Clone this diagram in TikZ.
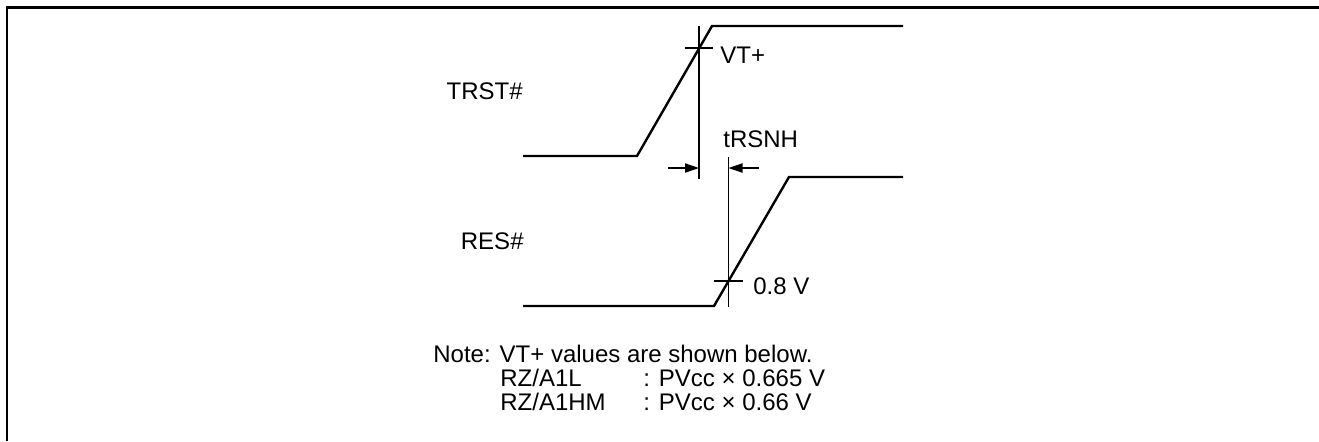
\documentclass[tikz,border=0pt]{standalone}
\usepackage{fontspec}
\setmainfont{Liberation Sans}
\usetikzlibrary{arrows.meta}

\begin{document}
\begin{tikzpicture}[x=0.5pt,y=-0.5pt,
    wave/.style={line width=1.2pt},
    marker/.style={line width=0.65pt},
    dimarrow/.style={line width=0.65pt,-{Triangle[length=7pt,width=4.6pt]}},
    lbl/.style={inner sep=0pt,font=\fontsize{12pt}{11pt}\selectfont}]
            \useasboundingbox (0,0) rectangle (1319,441);
            \draw[line width=1.2pt] (7,441)--(7,7.5)--(1319,7.5);

            \coordinate (T0) at (523,156);
            \coordinate (T1) at (637,156);
            \coordinate (T2) at (712,26);
            \coordinate (T3) at (903,26);
            \coordinate (VT) at (699,48);

            \coordinate (R0) at (523,306);
            \coordinate (R1) at (714,306);
            \coordinate (R2) at (789,177);
            \coordinate (R3) at (903,177);
            \coordinate (RV) at (728.5,281);

            \draw[wave] (T0)--(T1)--(T2)--(T3);
            \draw[wave] (R0)--(R1)--(R2)--(R3);

            % threshold marks
            \coordinate (VTtop) at (699,26);
            \coordinate (VTbot) at (699,179);
            \coordinate (RVtop) at (728.5,157);
            \coordinate (RVbot) at (728.5,307);
            \draw[marker] (VTtop)--(VTbot);
            \draw[marker] (RVtop)--(RVbot);
            \draw[marker] (685,48)--(713,48);
            \draw[marker] (714,281)--(743,281);

            % tRSNH arrows
            \coordinate (A1) at (668,168);
            \coordinate (A2) at (699,168);
            \coordinate (B1) at (759,168);
            \coordinate (B2) at (728.5,168);
            \draw[dimarrow] (A1)--(A2);
            \draw[dimarrow] (B1)--(B2);

            \node[lbl,anchor=base east] (trst) at (523,99) {TRST\#};
            \node[lbl,anchor=base east] (res) at (524,249) {RES\#};
            \node[lbl,anchor=base west] (vtp) at (720,63) {VT+};
            \node[lbl,anchor=base west] (trsnh) at (723,147) {tRSNH};
            \node[lbl,anchor=base west] (vlow) at (753,294) {0.8 V};

            \node[lbl,anchor=base west] (note) at (433,362) {Note: VT+ values are shown below.};
            \node[lbl,anchor=base west] (dev1) at (500,386) {RZ/A1L};
            \node[lbl,anchor=base west] (val1) at (643,386) {: PVcc × 0.665 V};
            \node[lbl,anchor=base west] (dev2) at (500,410) {RZ/A1HM};
            \node[lbl,anchor=base west] (val2) at (643,410) {: PVcc × 0.66 V};
        \end{tikzpicture}
\end{document}
